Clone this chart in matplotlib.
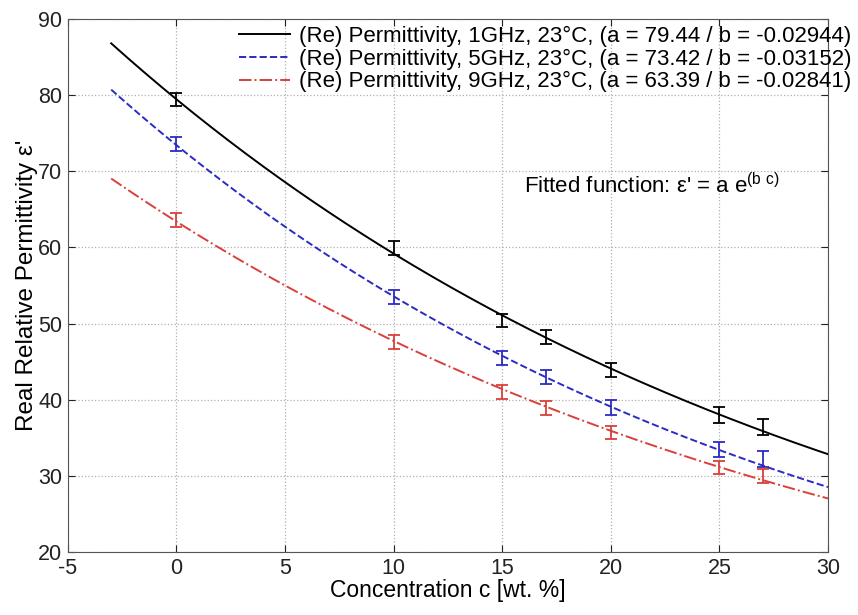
"""Permittivity vs concentration with exponential fits."""
import matplotlib
matplotlib.use("Agg")
import matplotlib.pyplot as plt
import numpy as np

plt.rcParams["font.family"] = ["Liberation Sans", "DejaVu Sans"]
plt.rcParams["axes.unicode_minus"] = False

# measured points
conc = [0, 10, 15, 17, 20, 25, 27]
eps_1ghz = [79.4, 59.9, 50.4, 48.2, 43.9, 38.0, 36.4]
eps_5ghz = [73.6, 53.5, 45.5, 43.0, 39.0, 33.5, 32.2]
eps_9ghz = [63.6, 47.6, 41.0, 38.9, 35.7, 31.1, 30.0]
err_1ghz = [0.9, 0.9, 0.9, 0.9, 0.9, 1.0, 1.0]
err_5ghz = [0.9, 0.9, 0.9, 0.9, 1.0, 1.0, 1.0]
err_9ghz = [0.9, 0.9, 0.9, 0.9, 0.9, 0.9, 0.9]

# fit parameters shown in the legend
fit_a = [79.44, 73.42, 63.39]
fit_b = [-0.02944, -0.03152, -0.02841]
freqs = ["1GHz", "5GHz", "9GHz"]

colors = ["black", "#2b2bc4", "#d9403a"]
styles = ["-", "--", "-."]

fig = plt.figure(figsize=(8.58, 6.15), dpi=100, facecolor="white")
ax = fig.add_axes([0.079, 0.1024, 0.886, 0.867])

c_fit = np.linspace(-3.0, 30, 300)
handles = []
for a, b, f, col, ls in zip(fit_a, fit_b, freqs, colors, styles):
    h, = ax.plot(c_fit, a * np.exp(b * c_fit), color=col, ls=ls, lw=1.4,
                 label=f"(Re) Permittivity, {f}, 23°C, (a = {a:.2f} / b = {b:.5f})")
    handles.append(h)

for vals, errs, col in zip([eps_1ghz, eps_5ghz, eps_9ghz],
                           [err_1ghz, err_5ghz, err_9ghz], colors):
    ax.errorbar(conc, vals, yerr=errs, fmt="none", ecolor=col, elinewidth=1.3,
                capsize=4.5, capthick=1.3)

ax.set_xlim(-5, 30)
ax.set_ylim(20, 90)
ax.set_xticks(range(-5, 31, 5))
ax.set_yticks(range(20, 91, 10))
ax.grid(True, ls=":", color="#b0b0b0", lw=0.9)
ax.tick_params(direction="in", top=True, right=True, labelsize=15.5, length=5,
               colors="#222222", pad=4)
for s in ax.spines.values():
    s.set_color("#555555")

ax.set_xlabel("Concentration c [wt. %]", fontsize=16.5, labelpad=0)
ax.set_ylabel("Real Relative Permittivity ε'", fontsize=17.5, labelpad=0)

leg = ax.legend(handles=handles, loc="upper right", frameon=False,
                bbox_to_anchor=(0.992, 0.958), bbox_transform=fig.transFigure,
                fontsize=16, handlelength=2.3, handletextpad=0.4,
                labelspacing=0.07, borderaxespad=0, borderpad=0)

ax.text(0.760, 0.699, r"Fitted function: ε' = a e$^{\mathregular{(b\ c)}}$",
        transform=fig.transFigure, ha="center", va="center", fontsize=16)

fig.savefig("out.png", dpi=100)
plt.close(fig)
